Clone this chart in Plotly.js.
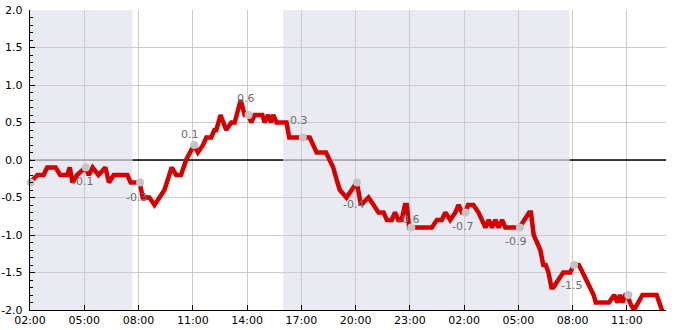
<!DOCTYPE html>
<html>
<head>
<meta charset="utf-8">
<script src="https://cdn.plot.ly/plotly-3.0.1.min.js"></script>
<style>html,body{margin:0;padding:0;background:#fff;}#chart{width:685px;height:330px;}</style>
</head>
<body>
<div id="chart"></div>
<script>
// ---- data ----
const lineTimes = [
 '2024-01-01 02:00','2024-01-01 02:25','2024-01-01 02:45','2024-01-01 02:57','2024-01-01 03:25','2024-01-01 03:40',
 '2024-01-01 04:03','2024-01-01 04:12','2024-01-01 04:21','2024-01-01 04:36','2024-01-01 05:04','2024-01-01 05:15',
 '2024-01-01 05:28','2024-01-01 05:47','2024-01-01 06:10','2024-01-01 06:22','2024-01-01 06:38','2024-01-01 07:23',
 '2024-01-01 07:34','2024-01-01 08:04','2024-01-01 08:14','2024-01-01 08:36','2024-01-01 08:53','2024-01-01 09:09',
 '2024-01-01 09:26','2024-01-01 09:50','2024-01-01 10:05','2024-01-01 10:21','2024-01-01 10:38','2024-01-01 11:04',
 '2024-01-01 11:17','2024-01-01 11:34','2024-01-01 11:45','2024-01-01 12:01','2024-01-01 12:12','2024-01-01 12:18',
 '2024-01-01 12:32','2024-01-01 12:51','2024-01-01 13:08','2024-01-01 13:19','2024-01-01 13:39','2024-01-01 13:52',
 '2024-01-01 14:04','2024-01-01 14:14','2024-01-01 14:25','2024-01-01 14:51','2024-01-01 14:58','2024-01-01 15:10',
 '2024-01-01 15:19','2024-01-01 15:27','2024-01-01 15:38','2024-01-01 16:11','2024-01-01 16:20','2024-01-01 17:28',
 '2024-01-01 17:51','2024-01-01 18:22','2024-01-01 18:35','2024-01-01 18:46','2024-01-01 19:00','2024-01-01 19:08',
 '2024-01-01 19:30','2024-01-01 19:47','2024-01-01 20:04','2024-01-01 20:18','2024-01-01 20:43','2024-01-01 21:00',
 '2024-01-01 21:16','2024-01-01 21:33','2024-01-01 21:44','2024-01-01 22:00','2024-01-01 22:11','2024-01-01 22:22',
 '2024-01-01 22:33','2024-01-01 22:44','2024-01-01 22:50','2024-01-01 22:58',
 '2024-01-02 00:13','2024-01-02 00:30','2024-01-02 00:46','2024-01-02 00:58','2024-01-02 01:14','2024-01-02 01:31',
 '2024-01-02 01:42','2024-01-02 01:53','2024-01-02 02:04','2024-01-02 02:13','2024-01-02 02:31','2024-01-02 02:48',
 '2024-01-02 02:59','2024-01-02 03:11','2024-01-02 03:22','2024-01-02 03:33','2024-01-02 03:44','2024-01-02 03:55',
 '2024-01-02 04:06','2024-01-02 04:17','2024-01-02 05:04','2024-01-02 05:36','2024-01-02 05:42','2024-01-02 05:51',
 '2024-01-02 06:02','2024-01-02 06:13','2024-01-02 06:23','2024-01-02 06:31','2024-01-02 06:40','2024-01-02 06:50',
 '2024-01-02 06:56','2024-01-02 07:12','2024-01-02 07:29','2024-01-02 07:52','2024-01-02 08:04','2024-01-02 08:21',
 '2024-01-02 08:32','2024-01-02 08:44','2024-01-02 08:58','2024-01-02 09:10','2024-01-02 09:17','2024-01-02 10:01',
 '2024-01-02 10:18','2024-01-02 10:29','2024-01-02 10:37','2024-01-02 10:46','2024-01-02 10:55','2024-01-02 11:04',
 '2024-01-02 11:10','2024-01-02 11:24','2024-01-02 11:38','2024-01-02 11:52','2024-01-02 12:39','2024-01-02 12:56',
 '2024-01-02 13:05'
];
const lineValues = [
 -0.3,-0.2,-0.2,-0.1,-0.1,-0.2,
 -0.2,-0.1,-0.3,-0.2,-0.1,-0.2,
 -0.1,-0.2,-0.1,-0.3,-0.2,-0.2,
 -0.3,-0.3,-0.5,-0.5,-0.6,-0.5,
 -0.4,-0.1,-0.2,-0.2,0.0,0.2,
 0.1,0.2,0.3,0.3,0.4,0.4,
 0.6,0.4,0.5,0.5,0.8,0.6,
 0.6,0.5,0.6,0.6,0.5,0.6,
 0.5,0.6,0.5,0.5,0.3,0.3,
 0.1,0.1,0.0,-0.1,-0.3,-0.4,
 -0.5,-0.4,-0.3,-0.6,-0.5,-0.6,
 -0.7,-0.7,-0.8,-0.8,-0.7,-0.8,
 -0.8,-0.6,-0.6,-0.9,
 -0.9,-0.8,-0.8,-0.7,-0.8,-0.7,
 -0.6,-0.7,-0.7,-0.6,-0.6,-0.7,
 -0.8,-0.9,-0.8,-0.9,-0.8,-0.9,
 -0.8,-0.9,-0.9,-0.7,-0.7,-1.0,
 -1.1,-1.2,-1.4,-1.4,-1.5,-1.7,
 -1.7,-1.6,-1.5,-1.5,-1.4,-1.4,
 -1.5,-1.6,-1.7,-1.8,-1.9,-1.9,
 -1.8,-1.9,-1.8,-1.9,-1.8,-1.8,
 -1.9,-2.0,-1.9,-1.8,-1.8,-2.0,
 -2.1
];
const markTimes = ['2024-01-01 02:02','2024-01-01 05:05','2024-01-01 08:05','2024-01-01 11:05','2024-01-01 14:05','2024-01-01 17:05',
                   '2024-01-01 20:05','2024-01-01 23:05','2024-01-02 02:05','2024-01-02 05:05','2024-01-02 08:05','2024-01-02 11:05'];
const markValues = [-0.3,-0.1,-0.3,0.2,0.6,0.3,-0.3,-0.9,-0.7,-0.9,-1.4,-1.8];
const markLabels = ['','-0.1','-0.3','0.1','0.6','0.3','-0.4','-0.6','-0.7','-0.9','-1.5',''];
const shadeStart = ['2024-01-01 02:00','2024-01-01 16:00'];
const shadeEnd   = ['2024-01-01 07:40','2024-01-02 07:50'];
const xStart = '2024-01-01 02:00', xEnd = '2024-01-02 13:10';
const yTicks = [-2,-1.5,-1,-0.5,0,0.5,1,1.5,2];

// ---- label placement offsets in pixels (style, not data) ----
const labelDx = [0,-3,-4,-4,-3,-4,-4,-3,-3,-4,-3,0];
const labelDy = [0,15,16,-10,-16,-16,23,-7,15,15,21,0]; // positive = downward

// ---- shapes ----
const shapes = [];
for (let i = 0; i < shadeStart.length; i++) {
  shapes.push({type:'rect', xref:'x', yref:'paper', x0:shadeStart[i], x1:shadeEnd[i], y0:0, y1:1,
               fillcolor:'#eaeaf2', line:{width:0}, layer:'below'});
}
let cur = xStart;
for (let i = 0; i < shadeStart.length; i++) {
  if (cur < shadeStart[i]) shapes.push({type:'line', xref:'x', yref:'y', x0:cur, x1:shadeStart[i], y0:0, y1:0, line:{color:'#000', width:1.3}, layer:'between'});
  shapes.push({type:'line', xref:'x', yref:'y', x0:shadeStart[i], x1:shadeEnd[i], y0:0, y1:0, line:{color:'#a0a0a4', width:1.3}, layer:'between'});
  cur = shadeEnd[i];
}
if (cur < xEnd) shapes.push({type:'line', xref:'x', yref:'y', x0:cur, x1:xEnd, y0:0, y1:0, line:{color:'#000', width:1.3}, layer:'between'});

// ---- annotations for the point labels ----
const annotations = [];
for (let i = 0; i < markLabels.length; i++) {
  if (!markLabels[i]) continue;
  annotations.push({x:markTimes[i], y:markValues[i], xref:'x', yref:'y', text:markLabels[i], showarrow:false,
                    xanchor:'center', yanchor:'middle', xshift:labelDx[i], yshift:-labelDy[i] + 1,
                    font:{family:'DejaVu Sans, sans-serif', size:11, color:'#6e6e6e'}});
}

const font = {family:'DejaVu Sans, sans-serif', size:11, color:'#000'};

const traces = [
  {type:'scatter', mode:'lines', x:lineTimes, y:lineValues, line:{color:'#d40000', width:4.5}, hoverinfo:'none'},
  {type:'scatter', mode:'markers', x:markTimes, y:markValues,
   marker:{color:'#c4c4c4', size:8}, hoverinfo:'none', cliponaxis:false}
];

const layout = {
  width:685, height:330,
  margin:{l:30, r:19, t:10, b:20, pad:0},
  paper_bgcolor:'#fff', plot_bgcolor:'#fff',
  showlegend:false, font:font,
  shapes:shapes, annotations:annotations,
  xaxis:{type:'date', range:[xStart, xEnd], tick0:xStart, dtick:3*3600*1000, tickformat:'%H:%M',
         showgrid:true, gridcolor:'#cccccc', gridwidth:1, zeroline:false,
         showline:true, linecolor:'#000', linewidth:1.2, ticks:'inside', ticklen:5, tickcolor:'#000',
         tickfont:font, ticklabelstandoff:0},
  yaxis:{range:[-2,2], tickvals:yTicks, ticktext:yTicks.map(v=>v.toFixed(1)),
         showgrid:true, gridcolor:'#cccccc', gridwidth:1, zeroline:false,
         showline:true, linecolor:'#000', linewidth:1.2, ticks:'inside', ticklen:5, tickcolor:'#000',
         minor:{dtick:0.1, tick0:0, ticks:'inside', ticklen:3, tickcolor:'#000', showgrid:false},
         tickfont:font, ticklabelstandoff:4}
};

Plotly.newPlot('chart', traces, layout, {staticPlot:true, displayModeBar:false});
</script>
</body>
</html>
